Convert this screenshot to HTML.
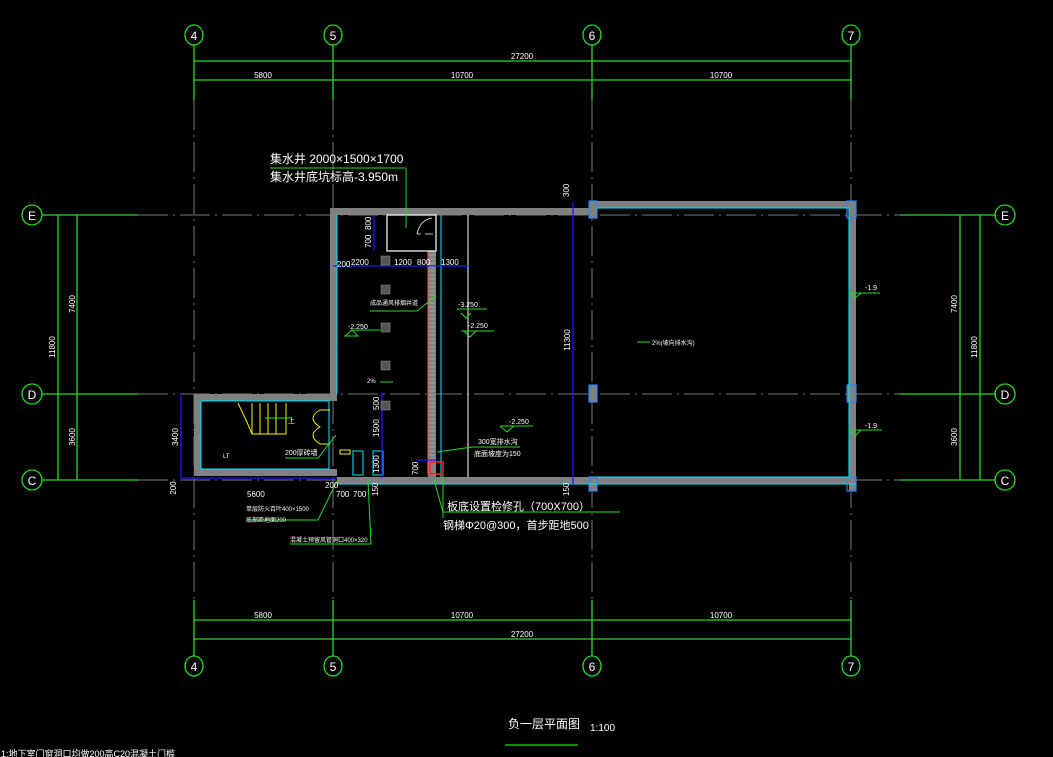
<!DOCTYPE html>
<html><head><meta charset="utf-8"><style>
html,body{margin:0;padding:0;background:#000;width:1053px;height:757px;overflow:hidden}
svg{display:block}
text{font-family:"Liberation Sans","Noto Sans CJK SC",sans-serif;fill:#fff}
</style></head><body>
<svg width="1053" height="757" viewBox="0 0 1053 757" xmlns="http://www.w3.org/2000/svg">
<rect width="1053" height="757" fill="#000"/>
<!-- axis gray dashed lines -->
<g stroke="#777" stroke-width="1" stroke-dasharray="30,5,2,5" fill="none">
<line x1="194" y1="100" x2="194" y2="600"/>
<line x1="333" y1="100" x2="333" y2="600"/>
<line x1="592" y1="100" x2="592" y2="600"/>
<line x1="851" y1="100" x2="851" y2="600"/>
<line x1="138" y1="215" x2="900" y2="215"/>
<line x1="138" y1="394" x2="900" y2="394"/>
<line x1="138" y1="480" x2="900" y2="480"/>
</g>
<!-- green axis lines & dims -->
<g stroke="#22dd22" stroke-width="1.3" fill="none">
<line x1="194" y1="45" x2="194" y2="100"/><line x1="333" y1="45" x2="333" y2="100"/>
<line x1="592" y1="45" x2="592" y2="100"/><line x1="851" y1="45" x2="851" y2="100"/>
<line x1="194" y1="61" x2="851" y2="61"/><line x1="194" y1="80" x2="851" y2="80"/>
<line x1="194" y1="600" x2="194" y2="656"/><line x1="333" y1="600" x2="333" y2="656"/>
<line x1="592" y1="600" x2="592" y2="656"/><line x1="851" y1="600" x2="851" y2="656"/>
<line x1="194" y1="620" x2="851" y2="620"/><line x1="194" y1="639" x2="851" y2="639"/>
<line x1="42" y1="215" x2="138" y2="215"/><line x1="42" y1="394" x2="138" y2="394"/><line x1="42" y1="480" x2="138" y2="480"/>
<line x1="58" y1="215" x2="58" y2="480"/><line x1="77" y1="215" x2="77" y2="480"/>
<line x1="900" y1="215" x2="996" y2="215"/><line x1="900" y1="394" x2="996" y2="394"/><line x1="900" y1="480" x2="996" y2="480"/>
<line x1="960" y1="215" x2="960" y2="480"/><line x1="980" y1="215" x2="980" y2="480"/>
<ellipse cx="194" cy="35" rx="9" ry="10"/><ellipse cx="333" cy="35" rx="9" ry="10"/>
<ellipse cx="592" cy="35" rx="9" ry="10"/><ellipse cx="851" cy="35" rx="9" ry="10"/>
<ellipse cx="194" cy="666" rx="9" ry="10"/><ellipse cx="333" cy="666" rx="9" ry="10"/>
<ellipse cx="592" cy="666" rx="9" ry="10"/><ellipse cx="851" cy="666" rx="9" ry="10"/>
<circle cx="32" cy="215" r="10"/><circle cx="32" cy="394" r="10"/><circle cx="32" cy="480" r="10"/>
<circle cx="1005" cy="215" r="10"/><circle cx="1005" cy="394" r="10"/><circle cx="1005" cy="480" r="10"/>
<line x1="505" y1="745" x2="578" y2="745"/>
</g>
<g font-size="12" text-anchor="middle">
<text x="194" y="40">4</text><text x="333" y="40">5</text><text x="592" y="40">6</text><text x="851" y="40">7</text>
<text x="194" y="671">4</text><text x="333" y="671">5</text><text x="592" y="671">6</text><text x="851" y="671">7</text>
<text x="32" y="220">E</text><text x="32" y="399">D</text><text x="32" y="485">C</text>
<text x="1005" y="220">E</text><text x="1005" y="399">D</text><text x="1005" y="485">C</text>
</g>
<g font-size="8" text-anchor="middle">
<text x="522" y="59">27200</text><text x="263" y="78">5800</text><text x="462" y="78">10700</text><text x="721" y="78">10700</text>
<text x="263" y="618">5800</text><text x="462" y="618">10700</text><text x="721" y="618">10700</text><text x="522" y="637">27200</text>
<text transform="translate(55,347) rotate(-90)">11800</text>
<text transform="translate(75,304) rotate(-90)">7400</text>
<text transform="translate(75,437) rotate(-90)">3600</text>
<text transform="translate(977,347) rotate(-90)">11800</text>
<text transform="translate(957,304) rotate(-90)">7400</text>
<text transform="translate(957,437) rotate(-90)">3600</text>
<text transform="translate(570,340) rotate(-90)">11300</text>
<text transform="translate(178,437) rotate(-90)">3400</text>
<text transform="translate(176,488) rotate(-90)">200</text>
</g>
<!-- walls -->
<g fill="#808080">
<rect x="330" y="208" width="262" height="7"/>
<rect x="590" y="201" width="266" height="7"/>
<rect x="330" y="208" width="7" height="190"/>
<rect x="194" y="394" width="143" height="7"/>
<rect x="194" y="394" width="7" height="82"/>
<rect x="194" y="469" width="143" height="7"/>
<rect x="337" y="477" width="519" height="7"/>
<rect x="849" y="201" width="7" height="290"/>
<rect x="589" y="201" width="8" height="17"/>
<rect x="589" y="385" width="8" height="17"/>
<rect x="589" y="477" width="8" height="14"/>
<rect x="847" y="385" width="9" height="17"/>
<rect x="428" y="251" width="8" height="226"/>
</g>
<g stroke="#2288ff" stroke-width="1.2" fill="none">
<rect x="589" y="385" width="8" height="17"/><rect x="589" y="477" width="8" height="14"/>
<rect x="847" y="385" width="9" height="17"/><rect x="847" y="201" width="9" height="17"/><rect x="847" y="477" width="9" height="14"/>
<rect x="589" y="201" width="8" height="17"/>
</g>
<g stroke="#00e5ff" stroke-width="1" fill="none">
<polyline points="597,208 849,208 849,477 597,477"/>
<polyline points="337,215 337,394"/>
<line x1="441" y1="215" x2="441" y2="477"/>
<rect x="201" y="401" width="128" height="68"/>
<line x1="337" y1="484" x2="856" y2="484"/>
<rect x="353" y="451" width="10" height="24"/><rect x="373" y="451" width="10" height="24"/>
</g>
<!-- hatch on ramp -->
<g stroke="#ccc" stroke-width="0.6">
<path d="M429 255h6M429 259h6M429 263h6M429 267h6M429 271h6M429 275h6M429 279h6M429 283h6M429 287h6M429 291h6M429 295h6M429 299h6M429 303h6M429 307h6M429 311h6M429 315h6M429 319h6M429 323h6M429 327h6M429 331h6M429 335h6M429 339h6M429 343h6M429 347h6M429 351h6M429 355h6M429 359h6M429 363h6M429 367h6M429 371h6M429 375h6M429 379h6M429 383h6M429 387h6M429 391h6M429 395h6M429 399h6M429 403h6M429 407h6M429 411h6M429 415h6M429 419h6M429 423h6M429 427h6M429 431h6M429 435h6M429 439h6M429 443h6M429 447h6M429 451h6M429 455h6M429 459h6"/>
</g>
<line x1="428" y1="251" x2="428" y2="475" stroke="#ff5555" stroke-width="1"/>
<line x1="468" y1="215" x2="468" y2="477" stroke="#fff" stroke-width="1"/>
<!-- sump -->
<rect x="387" y="215" width="49" height="36" fill="none" stroke="#fff" stroke-width="1.2"/>
<path d="M417 234 Q420 220 432 218 M417 234h4 M425 234h8" stroke="#fff" fill="none" stroke-width="0.8"/>
<!-- blue dims -->
<g stroke="#1a1aff" stroke-width="1.3" fill="none">
<line x1="333" y1="266" x2="468" y2="266"/>
<line x1="573" y1="201" x2="573" y2="484"/>
<line x1="181" y1="394" x2="181" y2="478"/><line x1="181" y1="478" x2="337" y2="478"/>
<line x1="382" y1="393" x2="382" y2="478"/>
<line x1="374" y1="216" x2="374" y2="251"/>
<line x1="416" y1="460" x2="436" y2="460"/>
</g>
<!-- fans -->
<g fill="#555" stroke="#999" stroke-width="0.5">
<rect x="381" y="256" width="9" height="9"/><rect x="381" y="285" width="9" height="9"/>
<rect x="381" y="323" width="9" height="9"/><rect x="381" y="361" width="9" height="9"/><rect x="381" y="401" width="9" height="9"/>
</g>
<!-- stairs -->
<g stroke="#ffee00" stroke-width="1" fill="none">
<path d="M238 403 L246 420 L252 434 L286 434 L286 403"/>
<path d="M252 403v31M260 403v31M268 403v31M276 403v31"/>
<path d="M320 410 h10 M320 444 h10 M320 410 q-14 8 0 17 q-14 8 0 17"/>
<rect x="340" y="450" width="10" height="4"/>
</g>
<rect x="430" y="462" width="13" height="12" fill="none" stroke="#ff2222" stroke-width="1.5"/>
<!-- green leaders -->
<g stroke="#22dd22" stroke-width="1" fill="none">
<polyline points="270,168 406,168 406,228"/>
<polyline points="436,296 417,311 370,311"/>
<polyline points="352,330 345,336 358,336 352,330 380,330"/>
<polyline points="457,309 474,309 487,309"/>
<polyline points="461,313 466,318 471,313"/>
<polyline points="461,331 494,331"/><polyline points="464,331 470,337 476,331"/>
<polyline points="500,426 533,426"/><polyline points="500,426 507,432 514,426"/>
<polyline points="437,452 472,447 520,447"/>
<line x1="380" y1="382" x2="393" y2="382"/>
<line x1="637" y1="342" x2="650" y2="342"/>
<polyline points="849,293 880,293"/><polyline points="849,293 855,298 861,293"/>
<polyline points="849,430 882,430"/><polyline points="849,430 855,436 861,430"/>
<polyline points="285,458 318,458 336,435"/>
<polyline points="247,520 318,520 337,481"/>
<polyline points="290,544 371,544 368,480"/>
<polyline points="434,480 443,512 620,512"/>
<polyline points="443,475 443,518"/>
<line x1="265" y1="418" x2="292" y2="418"/>
</g>
<!-- text -->
<g font-size="12">
<text x="270" y="163">集水井 2000×1500×1700</text>
<text x="270" y="181">集水井底坑标高-3.950m</text>
<text x="447" y="510" font-size="11">板底设置检修孔（700X700）</text>
<text x="443" y="529" font-size="11">钢梯Φ20@300，首步距地500</text>
<text x="508" y="728">负一层平面图</text>
<text x="590" y="731" font-size="10">1:100</text>
</g>
<g font-size="8">
<text x="337" y="267">200</text><text x="351" y="265">2200</text><text x="394" y="265">1200</text><text x="417" y="265">800</text><text x="441" y="265">1300</text>
<text x="370" y="305" font-size="6">成品通风排烟井道</text>
<text x="348" y="329" font-size="7">-2.250</text>
<text x="458" y="307" font-size="7">-3.250</text>
<text x="468" y="328" font-size="7">-2.250</text>
<text x="509" y="424" font-size="7">-2.250</text>
<text x="478" y="444" font-size="7">300宽排水沟</text>
<text x="474" y="456" font-size="7">底面坡度为150</text>
<text x="865" y="290" font-size="7">-1.9</text>
<text x="865" y="428" font-size="7">-1.9</text>
<text x="285" y="455" font-size="7">200厚砖墙</text>
<text x="246" y="511" font-size="6">单层防火百叶400×1500</text>
<text x="246" y="522" font-size="6">底部距地面200</text>
<text x="290" y="542" font-size="6">混凝土预留风管洞口400×320</text>
<text x="247" y="497">5600</text>
<text x="325" y="488">200</text><text x="336" y="497">700</text><text x="353" y="497">700</text>
<text transform="translate(371,248) rotate(-90)">700</text>
<text transform="translate(371,230) rotate(-90)">800</text>
<text transform="translate(379,410) rotate(-90)">500</text>
<text transform="translate(379,437) rotate(-90)">1500</text>
<text transform="translate(379,473) rotate(-90)">1300</text>
<text transform="translate(418,475) rotate(-90)">700</text>
<text transform="translate(378,496) rotate(-90)">150</text>
<text transform="translate(569,496) rotate(-90)">150</text>
<text transform="translate(569,197) rotate(-90)">300</text>
<text x="223" y="458" font-size="6">LT</text>
<text x="288" y="423" font-size="7">上</text>
<text x="367" y="383" font-size="6">2%</text>
<text x="652" y="345" font-size="6">2%(坡向排水沟)</text>
<text x="1" y="757" font-size="9">1:地下室门窗洞口均做200高C20混凝土门槛</text>
</g>
</svg>
</body></html>
